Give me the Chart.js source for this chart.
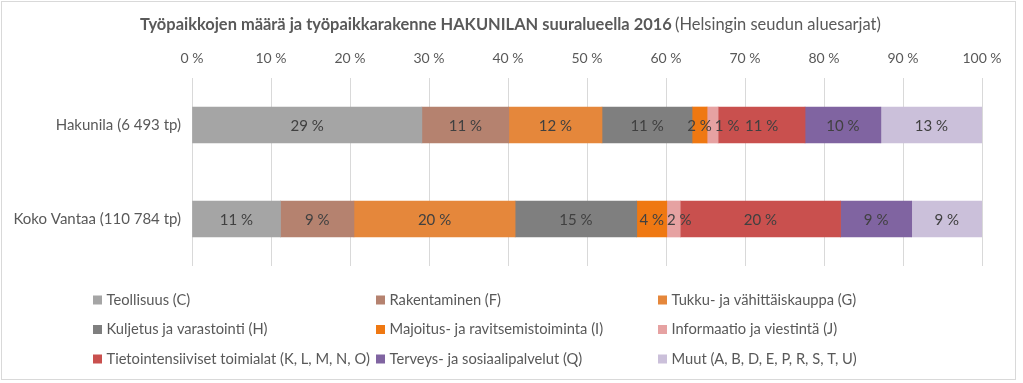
<!DOCTYPE html>
<html><head><meta charset="utf-8">
<script src="https://cdn.jsdelivr.net/npm/chart.js@4/dist/chart.umd.min.js"></script>
<style>
html,body{margin:0;padding:0;background:#fff;}
#wrap{position:relative;width:1023px;height:383px;overflow:hidden;}
#frame{position:absolute;left:1px;top:1px;width:1013px;height:377px;border:1px solid #d9d9d9;pointer-events:none;}
canvas{position:absolute;left:0;top:0;}
</style></head><body>
<div id="wrap"><canvas id="c" width="1023" height="383"></canvas><div id="frame"></div></div>
<script>
const categories = ['Hakunila (6 493 tp)', 'Koko Vantaa (110 784 tp)'];
const seriesNames = ['Teollisuus (C)', 'Rakentaminen (F)', 'Tukku- ja vähittäiskauppa (G)',
  'Kuljetus ja varastointi (H)', 'Majoitus- ja ravitsemistoiminta (I)', 'Informaatio ja viestintä (J)',
  'Tietointensiiviset toimialat (K, L, M, N, O)', 'Terveys- ja sosiaalipalvelut (Q)', 'Muut (A, B, D, E, P, R, S, T, U)'];
const teollisuus   = [29.1, 11.2];
const rakentaminen = [11.0, 9.3];
const tukku        = [11.8, 20.4];
const kuljetus     = [11.4, 15.4];
const majoitus     = [1.9, 3.8];
const informaatio  = [1.4, 1.7];
const tieto        = [11.0, 20.3];
const terveys      = [9.6, 9.0];
const muut         = [12.8, 8.9];
const tickValues = [0,10,20,30,40,50,60,70,80,90,100];
const titleBold = 'Työpaikkojen määrä ja työpaikkarakenne HAKUNILAN suuralueella 2016';
const titleNormal = '(Helsingin seudun aluesarjat)';

const seriesData = [teollisuus, rakentaminen, tukku, kuljetus, majoitus, informaatio, tieto, terveys, muut];
const colors = ['#a5a5a5', '#b5826f', '#e5873b', '#7f7f7f', '#ef7812', '#e6a2a2', '#c9504e', '#8064a1', '#cbc0da'];
const FONT = 'Lato, "Open Sans", sans-serif';

const titlePlugin = {
  id: 'titleMixed',
  afterDraw(chart) {
    const ctx = chart.ctx;
    ctx.save();
    ctx.textBaseline = 'middle';
    ctx.fillStyle = '#595959';
    ctx.font = 'bold 15px ' + FONT;
    const bw = ctx.measureText(titleBold).width;
    const bs = 15 * 532 / bw;
    ctx.font = 'bold ' + bs + 'px ' + FONT;
    ctx.fillText(titleBold, 140, 25);
    ctx.font = '15px ' + FONT;
    const nw = ctx.measureText(titleNormal).width;
    const ns = 15 * 206 / nw;
    ctx.font = ns + 'px ' + FONT;
    ctx.fillText(titleNormal, 675, 25);
    ctx.restore();
  }
};

const labelPlugin = {
  id: 'segLabels',
  afterDatasetsDraw(chart) {
    const ctx = chart.ctx;
    ctx.save();
    ctx.font = '15px ' + FONT;
    ctx.fillStyle = '#404040';
    ctx.textBaseline = 'middle';
    ctx.textAlign = 'left';
    for (let i = 0; i < categories.length; i++) {
      let prevRight = -1e9;
      chart.data.datasets.forEach((ds, di) => {
        const el = chart.getDatasetMeta(di).data[i];
        const v = ds.data[i];
        const txt = Math.round(v) + ' %';
        const w = ctx.measureText(txt).width;
        let left = (el.x + el.base) / 2 - w / 2;
        if (left < prevRight + 3) left = prevRight + 3;
        ctx.fillText(txt, left, el.y + 1);
        prevRight = left + w;
      });
    }
    ctx.restore();
  }
};

const legendPlugin = {
  id: 'gridLegend',
  afterDraw(chart) {
    const ctx = chart.ctx;
    const colsX = [93, 376, 658];
    const rowsY = [300, 329.5, 359];
    ctx.save();
    ctx.font = '14.7px ' + FONT;
    ctx.textBaseline = 'middle';
    chart.data.datasets.forEach((ds, di) => {
      const x = colsX[di % 3], y = rowsY[Math.floor(di / 3)];
      ctx.fillStyle = ds.backgroundColor;
      ctx.fillRect(x, y - 4.5, 9, 9);
      ctx.fillStyle = '#595959';
      ctx.fillText(ds.label, x + 13.5, y);
    });
    ctx.restore();
  }
};

new Chart(document.getElementById('c'), {
  type: 'bar',
  data: {
    labels: categories,
    datasets: seriesNames.map((n, k) => ({
      label: n, data: seriesData[k], backgroundColor: colors[k], borderWidth: 0, barThickness: 36
    }))
  },
  options: {
    indexAxis: 'y',
    responsive: false,
    animation: false,
    layout: { padding: { top: 44, right: 41, bottom: 117, left: 0 } },
    plugins: { legend: { display: false }, tooltip: { enabled: false }, title: { display: false } },
    scales: {
      x: {
        position: 'top', stacked: true, min: 0, max: 100,
        afterBuildTicks: (s) => { s.ticks = tickValues.map(v => ({ value: v })); },
        afterFit: (s) => { s.height = 34; },
        ticks: { callback: (v) => v + ' %', color: '#595959', font: { family: FONT, size: 14 }, padding: 11, maxRotation: 0 },
        grid: { color: '#d9d9d9', drawTicks: false },
        border: { display: false }
      },
      y: {
        stacked: true,
        afterFit: (s) => { s.width = 192; },
        ticks: { color: '#595959', font: { family: FONT, size: 15 }, padding: 11 },
        grid: { display: false, drawTicks: false },
        border: { display: false }
      }
    }
  },
  plugins: [titlePlugin, labelPlugin, legendPlugin]
});
</script>
</body></html>
